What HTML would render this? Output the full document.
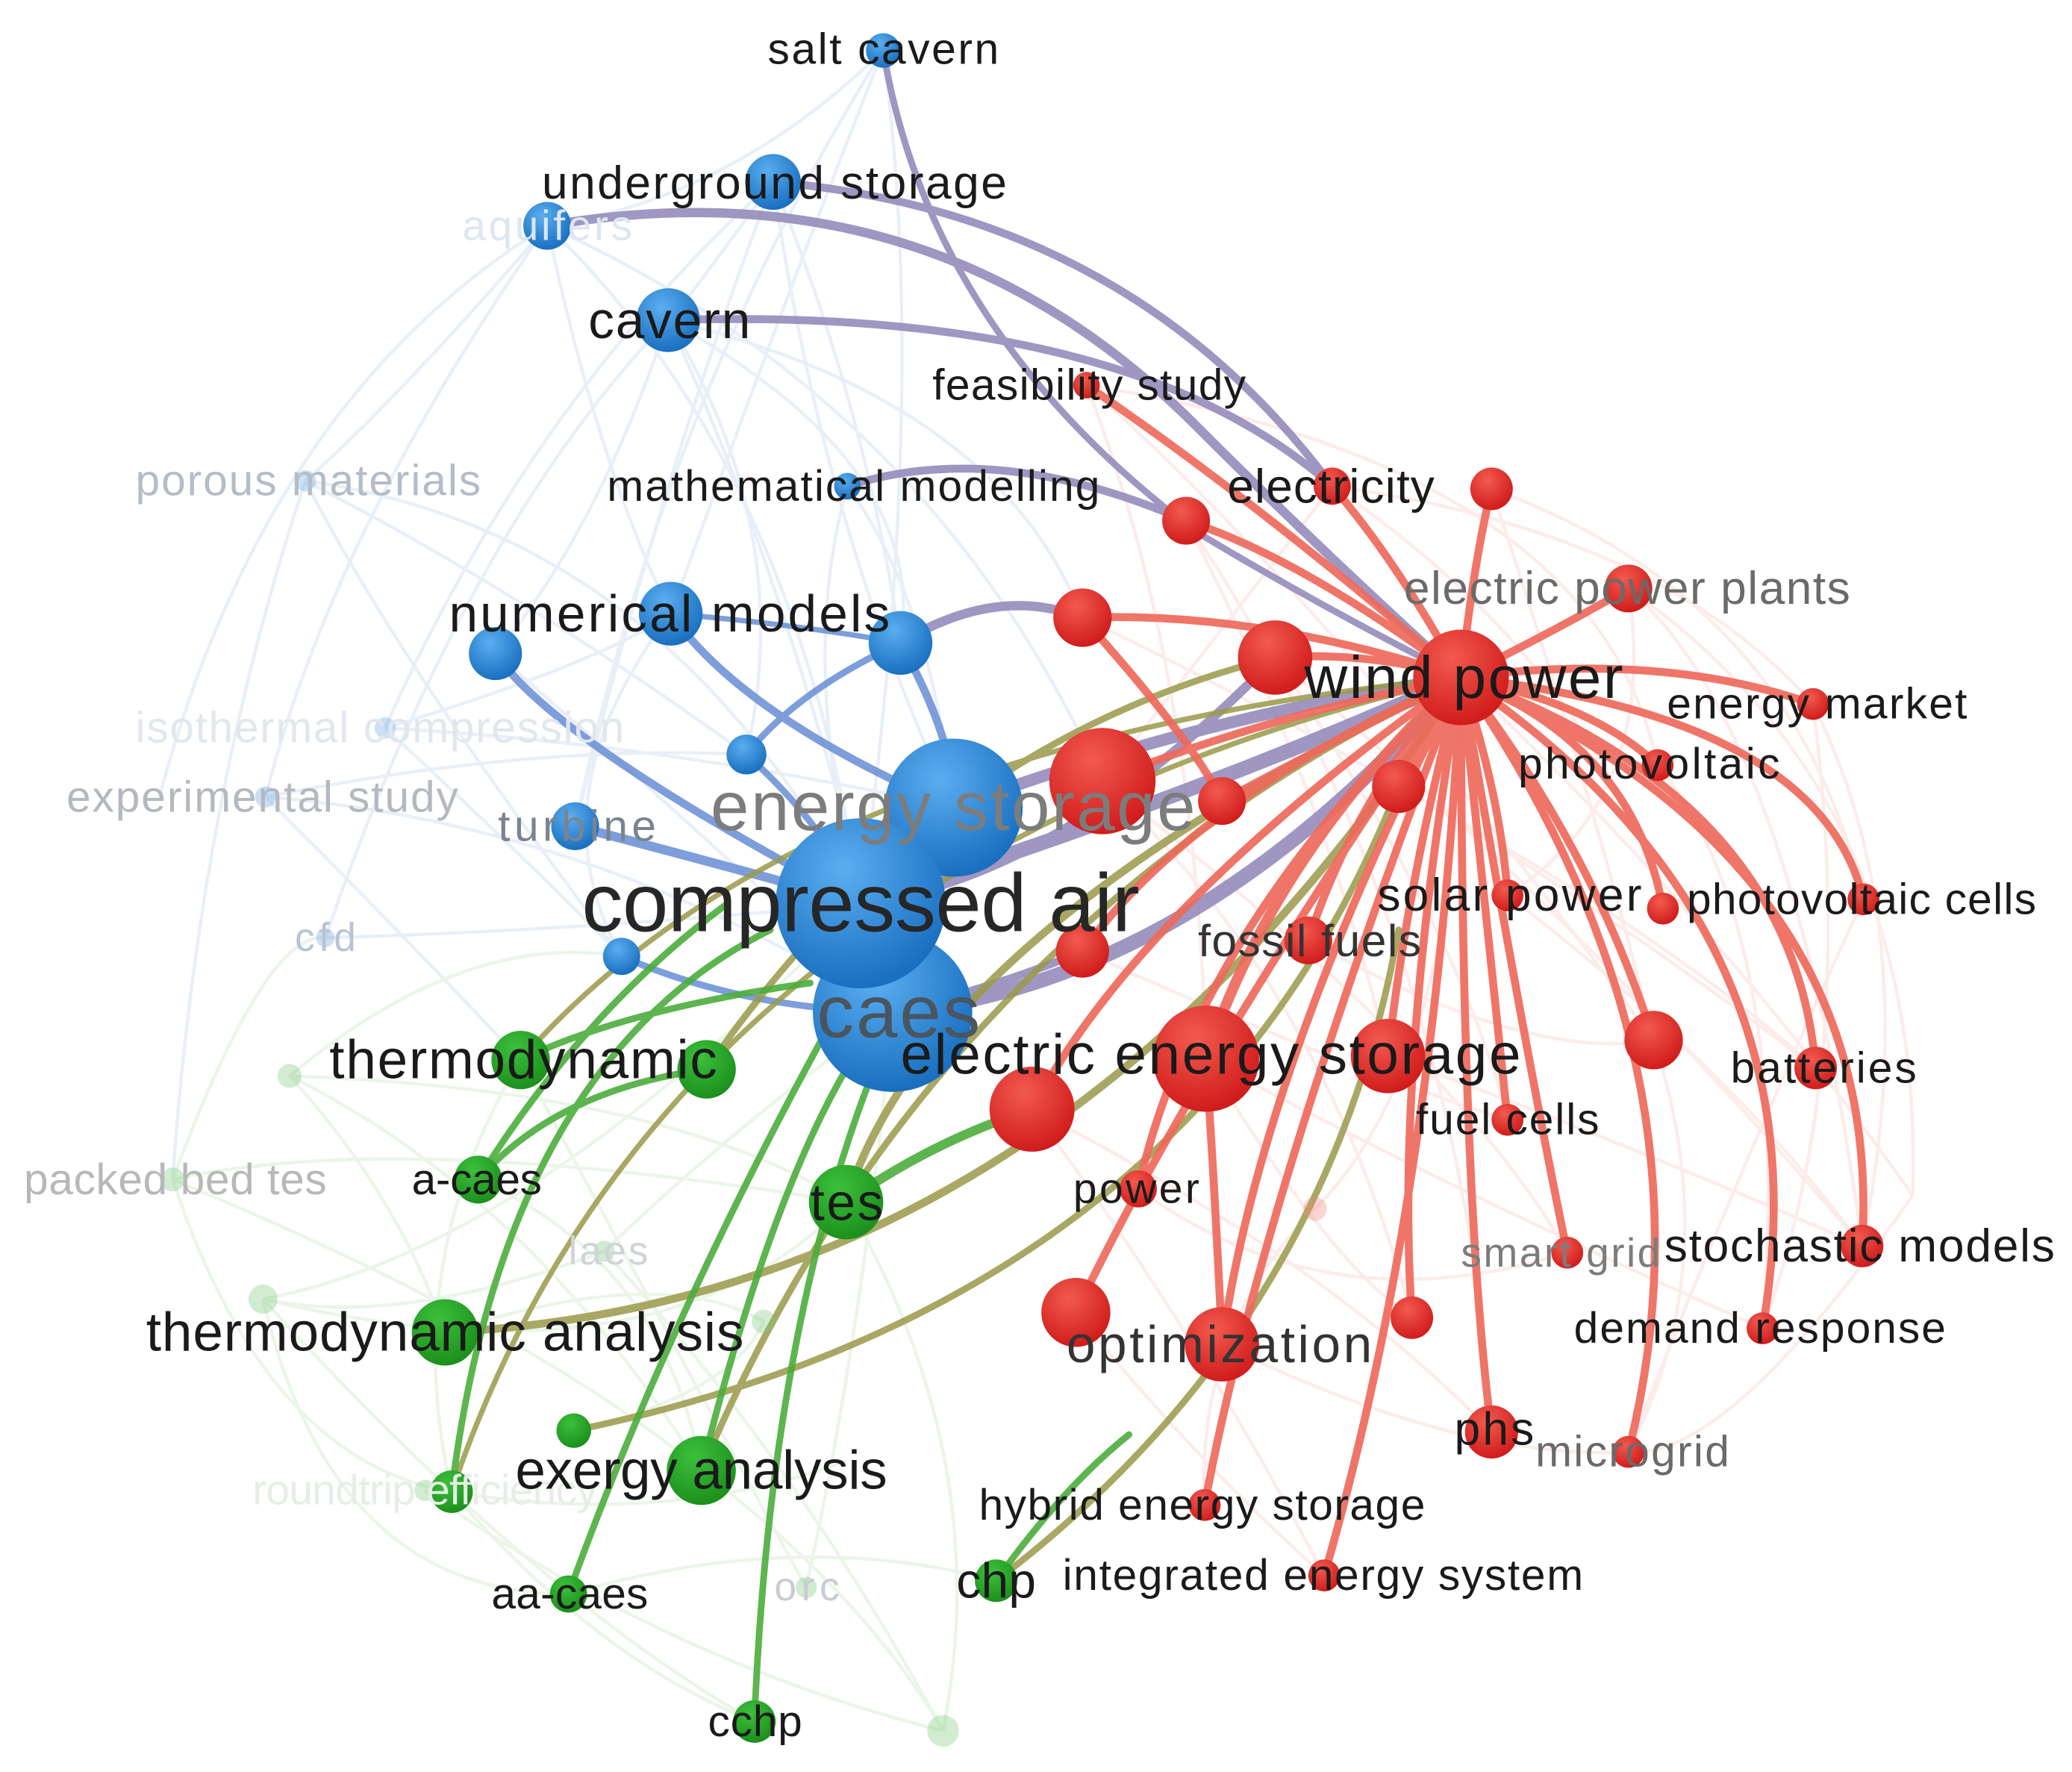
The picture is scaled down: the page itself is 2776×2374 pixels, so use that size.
<!DOCTYPE html>
<html><head><meta charset="utf-8"><style>
html,body{margin:0;padding:0;background:#fff;}
svg{display:block;}
text{font-family:"Liberation Sans",sans-serif;}
</style></head><body>
<svg width="2776" height="2374" viewBox="0 0 1560 1334" preserveAspectRatio="none" xmlns="http://www.w3.org/2000/svg">
<defs>
<radialGradient id="gb" cx="40%" cy="30%" r="70%"><stop offset="0" stop-color="#5aaef0"/><stop offset="1" stop-color="#1a6fc0"/></radialGradient>
<radialGradient id="gr" cx="40%" cy="30%" r="70%"><stop offset="0" stop-color="#f25a4e"/><stop offset="1" stop-color="#d01c1c"/></radialGradient>
<radialGradient id="gg" cx="40%" cy="30%" r="70%"><stop offset="0" stop-color="#3cc03c"/><stop offset="1" stop-color="#1c901c"/></radialGradient>
</defs>
<rect width="1560" height="1334" fill="#fff"/>
<!-- faint background web -->
<g fill="none" stroke-width="2.5" opacity="0.4">
<g stroke="#c9d9f0">
<path d="M412 170 Q300 300 230 362"/><path d="M412 170 Q250 400 200 600"/><path d="M582 137 Q400 300 290 548"/>
<path d="M503 241 Q350 400 245 706"/><path d="M665 38 Q500 300 433 622"/><path d="M230 362 Q500 400 648 680"/>
<path d="M290 548 Q500 560 718 608"/><path d="M200 600 Q450 620 672 762"/><path d="M245 706 Q450 700 648 680"/>
<path d="M412 170 Q600 350 648 680"/><path d="M582 137 Q620 400 718 608"/><path d="M665 38 Q700 300 648 680"/>
<path d="M503 241 Q600 450 672 762"/><path d="M230 362 Q300 500 468 720"/><path d="M412 170 Q550 150 665 38"/>
<path d="M290 548 Q400 650 468 720"/><path d="M200 600 Q300 700 392 798"/><path d="M230 362 Q150 600 130 888"/>
<path d="M412 170 Q200 300 120 600"/><path d="M582 137 Q500 250 503 241"/><path d="M503 241 Q450 400 373 492"/>
<path d="M582 137 Q650 300 678 484"/><path d="M503 241 Q600 400 562 568"/><path d="M665 38 Q600 200 505 462"/>
<path d="M412 170 Q450 350 505 462"/><path d="M503 241 Q700 350 678 484"/><path d="M582 137 Q500 350 433 622"/>
<path d="M373 492 Q500 600 672 762"/><path d="M505 462 Q400 600 468 720"/><path d="M638 366 Q600 500 648 680"/>
<path d="M638 366 Q700 450 718 608"/><path d="M503 241 Q750 300 815 465"/><path d="M412 170 Q700 300 830 588"/>
<path d="M230 362 Q400 450 562 568"/><path d="M290 548 Q450 500 505 462"/><path d="M200 600 Q400 560 562 568"/>
</g>
<g stroke="#cfe8c8">
<path d="M130 888 Q300 850 637 905"/><path d="M198 978 Q400 940 648 680"/><path d="M218 810 Q400 900 528 1107"/>
<path d="M130 888 Q200 1100 340 1123"/><path d="M198 978 Q400 1200 568 1296"/><path d="M455 942 Q600 1100 710 1303"/>
<path d="M320 1122 Q500 1250 710 1303"/><path d="M607 1195 Q650 1000 672 762"/><path d="M218 810 Q300 900 335 1003"/>
<path d="M130 888 Q200 700 245 706"/><path d="M198 978 Q250 1200 428 1200"/><path d="M455 942 Q300 1000 198 978"/>
<path d="M710 1303 Q750 1100 637 905"/><path d="M568 1296 Q450 1250 340 1123"/><path d="M607 1195 Q500 1000 392 798"/>
<path d="M218 810 Q500 820 637 905"/><path d="M130 888 Q400 1000 528 1107"/><path d="M198 978 Q500 1050 637 905"/>
<path d="M335 1003 Q500 950 575 995"/><path d="M432 1077 Q550 1050 575 995"/><path d="M528 1107 Q650 1200 710 1303"/>
<path d="M428 1200 Q600 1150 750 1190"/><path d="M340 1123 Q500 1150 637 1100"/><path d="M455 942 Q550 850 672 762"/>
<path d="M218 810 Q350 700 468 720"/><path d="M360 888 Q500 950 528 1107"/><path d="M392 798 Q300 950 340 1123"/>
</g>
<g stroke="#f8d0cc">
<path d="M1100 510 Q1300 700 1440 900"/><path d="M1226 443 Q1450 600 1440 900"/><path d="M1123 368 Q1350 450 1403 677"/>
<path d="M990 910 Q1100 800 1100 510"/><path d="M818 290 Q1000 450 1245 783"/><path d="M893 392 Q1100 700 1123 1078"/>
<path d="M1403 677 Q1300 900 1226 1093"/><path d="M1365 530 Q1400 800 1327 1000"/><path d="M990 910 Q900 1000 907 1133"/>
<path d="M815 465 Q1100 600 1367 804"/><path d="M1003 366 Q1250 400 1365 530"/><path d="M1440 900 Q1300 1100 1226 1093"/>
<path d="M830 588 Q1100 800 1180 943"/><path d="M960 495 Q1200 700 1402 938"/><path d="M818 290 Q1200 350 1248 576"/>
<path d="M777 835 Q900 1000 997 1186"/><path d="M908 797 Q1000 950 1063 992"/><path d="M1245 783 Q1300 950 1226 1093"/>
<path d="M1003 366 Q1200 500 1252 684"/><path d="M893 392 Q1000 600 1045 795"/><path d="M818 290 Q900 500 908 797"/>
<path d="M960 495 Q1100 700 1135 843"/><path d="M830 588 Q1000 750 1063 992"/><path d="M1053 592 Q1250 700 1367 804"/>
<path d="M1226 443 Q1350 550 1402 938"/><path d="M1365 530 Q1450 700 1402 938"/><path d="M1248 576 Q1350 700 1327 1000"/>
<path d="M908 797 Q1100 900 1327 1000"/><path d="M777 835 Q1000 950 1123 1078"/><path d="M920 1012 Q1100 1100 1226 1093"/>
<path d="M810 988 Q900 1100 997 1186"/><path d="M857 895 Q1000 1000 1180 943"/><path d="M1045 795 Q1200 850 1402 938"/>
<path d="M1135 674 Q1300 800 1402 938"/><path d="M985 708 Q1150 800 1245 783"/><path d="M815 716 Q1000 800 1135 843"/>
<path d="M1123 368 Q1200 600 1245 783"/><path d="M1226 443 Q1250 600 1135 674"/><path d="M1003 366 Q900 500 830 588"/>
</g>
</g>
<!-- blue edges -->
<g fill="none" stroke="#6f94d6" stroke-linecap="round" opacity="0.9">
<path d="M373 492 Q420 560 648 680" stroke-width="6"/>
<path d="M505 462 Q560 540 718 608" stroke-width="6"/>
<path d="M678 484 Q600 520 562 568" stroke-width="5"/>
<path d="M678 484 Q720 560 718 608" stroke-width="6"/>
<path d="M468 720 Q560 760 672 762" stroke-width="5"/>
<path d="M433 622 Q540 650 648 680" stroke-width="7"/>
<path d="M562 568 Q620 620 648 680" stroke-width="5"/>
<path d="M505 462 Q600 470 678 484" stroke-width="4"/>
</g>
<!-- blue-to-red purple edges -->
<g fill="none" stroke="#8f85b8" stroke-linecap="round" opacity="0.85">
<path d="M412 170 Q700 120 900 320 Q1000 420 1100 510" stroke-width="7"/>
<path d="M582 137 Q850 160 1003 366" stroke-width="6"/>
<path d="M503 241 Q850 230 1003 366" stroke-width="6"/>
<path d="M665 38 Q700 250 900 400 Q1000 460 1100 510" stroke-width="5"/>
<path d="M638 366 Q750 330 893 392" stroke-width="6"/>
<path d="M678 484 Q750 440 815 465" stroke-width="7"/>
<path d="M718 608 Q900 540 1100 510" stroke-width="9"/>
<path d="M648 680 Q900 600 1100 510" stroke-width="11"/>
<path d="M672 762 Q900 740 1100 510" stroke-width="11"/>
<path d="M648 680 Q800 660 960 495" stroke-width="7"/>
<path d="M672 762 Q760 740 815 716" stroke-width="6"/>
</g>
<!-- green-to-red olive edges -->
<g fill="none" stroke="#9a9a4a" stroke-linecap="round" opacity="0.85">
<path d="M637 905 Q700 700 1100 510" stroke-width="6"/>
<path d="M532 805 Q700 560 960 495" stroke-width="5"/>
<path d="M335 1003 Q800 980 1100 510" stroke-width="6"/>
<path d="M432 1077 Q900 980 1053 592" stroke-width="5"/>
<path d="M528 1107 Q700 700 1100 510" stroke-width="5"/>
<path d="M750 1190 Q1000 1000 1053 700" stroke-width="5"/>
<path d="M340 1123 Q500 650 1100 510" stroke-width="4"/>
<path d="M392 798 Q600 560 1100 510" stroke-width="4"/>
</g>
<!-- green edges -->
<g fill="none" stroke="#4cad3c" stroke-linecap="round" opacity="0.9">
<path d="M360 888 Q420 820 532 805" stroke-width="5"/>
<path d="M360 888 Q440 760 548 680" stroke-width="5"/>
<path d="M340 1123 Q380 800 580 700" stroke-width="5"/>
<path d="M428 1200 Q500 1000 620 780" stroke-width="5"/>
<path d="M568 1296 Q580 1000 660 800" stroke-width="5"/>
<path d="M528 1107 Q580 900 640 800" stroke-width="5"/>
<path d="M637 905 Q700 860 777 835" stroke-width="7"/>
<path d="M392 798 Q470 760 610 740" stroke-width="5"/>
<path d="M750 1190 Q800 1120 850 1080" stroke-width="5"/>
</g>
<!-- red edges from wind power -->
<g fill="none" stroke="#ee6a5c" stroke-linecap="round" stroke-width="6" opacity="0.92">
<path d="M1100 510 Q950 380 818 290"/>
<path d="M1100 510 Q1050 420 1003 366"/>
<path d="M1100 510 Q980 420 893 392"/>
<path d="M1100 510 Q1110 420 1123 368"/>
<path d="M1100 510 Q1180 470 1226 443"/>
<path d="M1100 510 Q950 460 815 465"/>
<path d="M1100 510 Q1030 490 960 495"/>
<path d="M1100 510 Q1250 490 1365 530"/>
<path d="M1100 510 Q1200 530 1248 576"/>
<path d="M1100 510 Q950 540 830 588"/>
<path d="M1100 510 Q1000 560 920 603"/>
<path d="M1100 510 Q1070 560 1053 592"/>
<path d="M1100 510 Q1130 600 1135 674"/>
<path d="M1100 510 Q1230 560 1252 684"/>
<path d="M1100 510 Q1370 540 1403 677"/>
<path d="M1100 510 Q1020 600 985 708"/>
<path d="M1100 510 Q900 600 815 716"/>
<path d="M1100 510 Q960 640 908 797" stroke-width="8"/>
<path d="M1100 510 Q860 680 777 835"/>
<path d="M1100 510 Q1060 660 1045 795"/>
<path d="M1100 510 Q1200 640 1245 783"/>
<path d="M1100 510 Q1350 600 1367 804"/>
<path d="M1100 510 Q1120 700 1135 843"/>
<path d="M1100 510 Q900 700 857 895"/>
<path d="M1100 510 Q1150 800 1180 943"/>
<path d="M1100 510 Q1420 650 1402 938"/>
<path d="M1100 510 Q1380 700 1327 1000"/>
<path d="M1100 510 Q900 800 810 988"/>
<path d="M1100 510 Q950 800 920 1012"/>
<path d="M1100 510 Q1050 800 1063 992"/>
<path d="M1100 510 Q1100 900 1123 1078"/>
<path d="M1100 510 Q1300 800 1226 1093"/>
<path d="M1100 510 Q950 900 907 1133"/>
<path d="M1100 510 Q1080 900 997 1186"/>
<path d="M908 797 Q915 900 920 1012"/>
<path d="M815 465 Q900 560 920 603"/>
</g>
<!-- faint nodes -->
<g opacity="0.35">
<circle cx="230" cy="362" r="8" fill="#6aa6e0"/><circle cx="290" cy="548" r="8" fill="#6aa6e0"/>
<circle cx="200" cy="600" r="8" fill="#6aa6e0"/><circle cx="245" cy="706" r="7" fill="#6aa6e0"/>
<circle cx="218" cy="810" r="9" fill="#7cc87c"/><circle cx="130" cy="888" r="9" fill="#7cc87c"/>
<circle cx="198" cy="978" r="11" fill="#7cc87c"/><circle cx="455" cy="942" r="8" fill="#7cc87c"/>
<circle cx="320" cy="1122" r="8" fill="#7cc87c"/><circle cx="607" cy="1195" r="8" fill="#7cc87c"/>
<circle cx="710" cy="1303" r="12" fill="#7cc87c"/><circle cx="575" cy="995" r="9" fill="#7cc87c"/>
<circle cx="990" cy="910" r="9" fill="#f08a80"/>
</g>
<!-- blue nodes -->
<g fill="url(#gb)">
<circle cx="665" cy="38" r="13"/><circle cx="582" cy="137" r="21"/><circle cx="412" cy="170" r="18"/>
<circle cx="503" cy="241" r="24"/><circle cx="638" cy="366" r="10"/><circle cx="505" cy="462" r="24"/>
<circle cx="373" cy="492" r="20"/><circle cx="678" cy="484" r="24"/><circle cx="562" cy="568" r="15"/>
<circle cx="433" cy="622" r="18"/><circle cx="468" cy="720" r="14"/>
<circle cx="718" cy="608" r="52"/><circle cx="672" cy="762" r="60"/><circle cx="648" cy="680" r="64"/>
</g>
<!-- green nodes -->
<g fill="url(#gg)">
<circle cx="392" cy="798" r="22"/><circle cx="532" cy="805" r="22"/><circle cx="360" cy="888" r="18"/>
<circle cx="637" cy="905" r="28"/><circle cx="335" cy="1003" r="25"/><circle cx="432" cy="1077" r="13"/>
<circle cx="340" cy="1123" r="16"/><circle cx="528" cy="1107" r="26"/><circle cx="428" cy="1200" r="14"/>
<circle cx="750" cy="1190" r="16"/><circle cx="568" cy="1296" r="16"/>
</g>
<!-- red nodes -->
<g fill="url(#gr)">
<circle cx="818" cy="290" r="10"/><circle cx="1003" cy="366" r="14"/><circle cx="893" cy="392" r="18"/>
<circle cx="1123" cy="368" r="16"/><circle cx="1226" cy="443" r="18"/><circle cx="815" cy="465" r="22"/>
<circle cx="960" cy="495" r="28"/><circle cx="1100" cy="510" r="36"/><circle cx="1365" cy="530" r="12"/>
<circle cx="1248" cy="576" r="12"/><circle cx="830" cy="588" r="40"/><circle cx="920" cy="603" r="18"/>
<circle cx="1053" cy="592" r="20"/><circle cx="1135" cy="674" r="12"/><circle cx="1252" cy="684" r="12"/>
<circle cx="1403" cy="677" r="12"/><circle cx="985" cy="708" r="18"/><circle cx="815" cy="716" r="20"/>
<circle cx="908" cy="797" r="40"/><circle cx="777" cy="835" r="32"/><circle cx="1045" cy="795" r="28"/>
<circle cx="1245" cy="783" r="22"/><circle cx="1367" cy="804" r="16"/><circle cx="1135" cy="843" r="12"/>
<circle cx="857" cy="895" r="14"/><circle cx="1180" cy="943" r="12"/><circle cx="1402" cy="938" r="16"/>
<circle cx="1327" cy="1000" r="12"/><circle cx="810" cy="988" r="26"/><circle cx="920" cy="1012" r="28"/>
<circle cx="1063" cy="992" r="16"/><circle cx="1123" cy="1078" r="20"/><circle cx="1226" cy="1093" r="12"/>
<circle cx="907" cy="1133" r="12"/><circle cx="997" cy="1186" r="12"/>
</g>
<!-- labels -->
<g fill="#1a1a1a" dominant-baseline="central" lengthAdjust="spacingAndGlyphs">
<text x="578" y="37" font-size="33" textLength="174">salt cavern</text>
<text x="408" y="138" font-size="35" textLength="350">underground storage</text>
<text x="348" y="170" font-size="32" textLength="128" fill="#dde6f3">aquifers</text>
<text x="443" y="241" font-size="39" textLength="122">cavern</text>
<text x="102" y="362" font-size="33" textLength="260" fill="#b4bcc8">porous materials</text>
<text x="457" y="366" font-size="33" textLength="371">mathematical modelling</text>
<text x="338" y="462" font-size="39" textLength="332">numerical models</text>
<text x="102" y="548" font-size="33" textLength="368" fill="#e2e7ee">isothermal compression</text>
<text x="50" y="600" font-size="33" textLength="295" fill="#b4b8bf">experimental study</text>
<text x="375" y="622" font-size="33" textLength="119" fill="#7a8490">turbine</text>
<text x="535" y="607" font-size="52" textLength="365" fill="#7c7c7c">energy storage</text>
<text x="438" y="680" font-size="62" textLength="420" fill="#262626">compressed air</text>
<text x="222" y="706" font-size="30" textLength="46" fill="#b8c4d4">cfd</text>
<text x="615" y="762" font-size="56" textLength="123" fill="#4a5560">caes</text>
<text x="248" y="798" font-size="41" textLength="292">thermodynamic</text>
<text x="18" y="888" font-size="33" textLength="228" fill="#b8b8b8">packed bed tes</text>
<text x="310" y="888" font-size="33" textLength="98">a-caes</text>
<text x="610" y="905" font-size="39" textLength="55">tes</text>
<text x="428" y="942" font-size="30" textLength="60" fill="#d0d4d8">laes</text>
<text x="110" y="1003" font-size="41" textLength="450">thermodynamic analysis</text>
<text x="190" y="1122" font-size="32" textLength="260" fill="#e6eee6">roundtrip efficiency</text>
<text x="388" y="1107" font-size="41" textLength="280">exergy analysis</text>
<text x="370" y="1200" font-size="33" textLength="118">aa-caes</text>
<text x="583" y="1195" font-size="30" textLength="49" fill="#c8ccd0">orc</text>
<text x="720" y="1190" font-size="37" textLength="60">chp</text>
<text x="533" y="1296" font-size="33" textLength="71">cchp</text>
<text x="702" y="290" font-size="33" textLength="236">feasibility study</text>
<text x="924" y="366" font-size="36" textLength="156">electricity</text>
<text x="1057" y="443" font-size="35" textLength="336" fill="#6a6a6a">electric power plants</text>
<text x="982" y="510" font-size="45" textLength="240">wind power</text>
<text x="1255" y="530" font-size="33" textLength="226">energy market</text>
<text x="1143" y="575" font-size="33" textLength="197">photovoltaic</text>
<text x="1037" y="674" font-size="35" textLength="199">solar power</text>
<text x="1270" y="677" font-size="33" textLength="263">photovoltaic cells</text>
<text x="902" y="708" font-size="34" textLength="168" fill="#333">fossil fuels</text>
<text x="678" y="794" font-size="43" textLength="467">electric energy storage</text>
<text x="1303" y="804" font-size="33" textLength="140">batteries</text>
<text x="1066" y="843" font-size="33" textLength="138">fuel cells</text>
<text x="808" y="895" font-size="32" textLength="95">power</text>
<text x="1100" y="943" font-size="31" textLength="150" fill="#7c7c7c">smart grid</text>
<text x="1253" y="938" font-size="35" textLength="294">stochastic models</text>
<text x="1185" y="1000" font-size="33" textLength="280">demand response</text>
<text x="803" y="1012" font-size="39" textLength="230" fill="#333">optimization</text>
<text x="1095" y="1076" font-size="35" textLength="60">phs</text>
<text x="1156" y="1093" font-size="33" textLength="146" fill="#6a6a6a">microgrid</text>
<text x="737" y="1133" font-size="33" textLength="336">hybrid energy storage</text>
<text x="800" y="1186" font-size="33" textLength="392">integrated energy system</text>
</g>
</svg>
</body></html>
